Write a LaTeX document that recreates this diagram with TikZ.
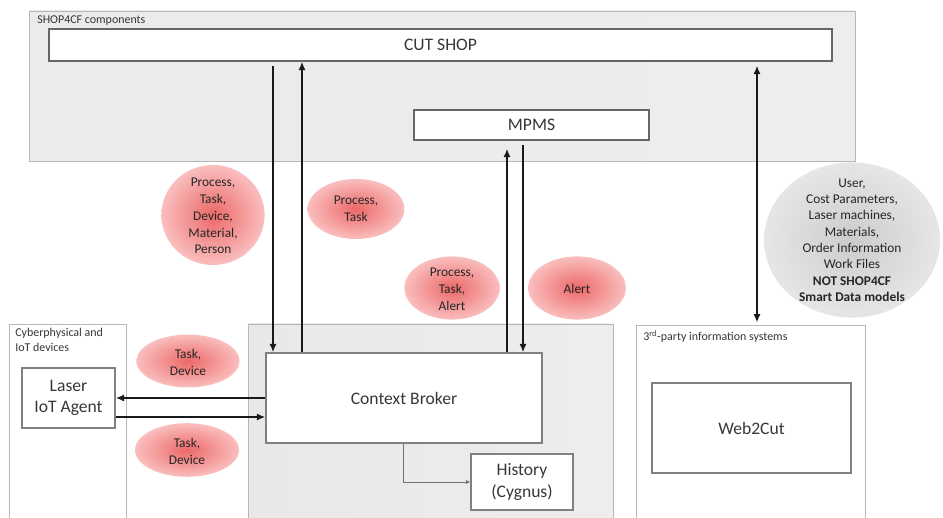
\documentclass[tikz,border=0pt]{standalone}
\usepackage{fontspec}
\setmainfont{Carlito}
\usetikzlibrary{arrows.meta}

\definecolor{bubred}{RGB}{236,104,104}
\definecolor{bubpink}{RGB}{250,190,190}
\definecolor{bubgray}{RGB}{204,204,204}
\definecolor{bubgrayout}{RGB}{230,230,230}
\definecolor{ink}{RGB}{55,55,55}

\tikzset{
  area/.style={draw=black!28, line width=0.6pt, inner sep=0pt},
  comp/.style={draw=black!60, line width=0.9pt, fill=white, inner sep=0pt,
    text=ink, font=\fontsize{12.5}{15}\selectfont, align=center},
  flow/.style={line width=1.4pt, black!90},
  redbub/.style={inner color=bubred, outer color=bubpink},
  graybub/.style={inner color=bubgray, outer color=bubgrayout},
  note/.style={text=black!85, font=\fontsize{9.5}{12}\selectfont, align=center, inner sep=0pt},
  tag/.style={text=ink, font=\fontsize{8.5}{10.5}\selectfont, align=left,
    anchor=north west, inner sep=0pt}
}

\begin{document}
\begin{tikzpicture}[x=0.025cm, y=-0.025cm, >={Latex[length=6pt,width=5pt]}]
\clip (0,0) rectangle (943,518);

% groups
\node[area, left color=black!8, middle color=black!20, right color=black!7,
  minimum width=20.625cm, minimum height=3.75cm] (shop) at (442.5,86) {};
\node[tag] (shoplbl) at (37,15) {SHOP4CF components};
\node[area, fill=white, minimum width=2.925cm, minimum height=5.4cm] (cyber) at (67.5,432) {};
\node[tag] (cyberlbl) at (15,328) {Cyberphysical and\\IoT devices};
\node[area, left color=black!9, middle color=black!17, right color=black!7,
  minimum width=9.125cm, minimum height=5.4cm] (cbarea) at (430.5,432) {};
\node[area, fill=white, minimum width=5.725cm, minimum height=5.375cm] (third) at (750.5,432.5) {};
\node[tag] (thirdlbl) at (643,330) {3\textsuperscript{rd}-party information systems};

% components
\node[comp, minimum width=19.575cm, minimum height=0.8cm] (cutshop) at (440.5,45) {CUT SHOP};
\node[comp, minimum width=5.875cm, minimum height=0.75cm] (mpms) at (531.5,125) {MPMS};
\node[comp, draw=black!50, minimum width=6.9cm, minimum height=2.25cm] (broker) at (404,398) {Context Broker};
\node[comp, draw=black!50, minimum width=2.55cm, minimum height=1.4cm] (history) at (522,482) {History\\(Cygnus)};
\node[comp, draw=black!50, minimum width=2.325cm, minimum height=1.5cm] (agent) at (68.5,398) {Laser\\IoT Agent};
\node[comp, draw=black!50, minimum width=4.975cm, minimum height=2.25cm] (webcut) at (751.5,428) {Web2Cut};

% where the links run
\coordinate (cs1) at (273,0);
\coordinate (cs2) at (302,0);
\coordinate (mp1) at (507,0);
\coordinate (mp2) at (523,0);
\coordinate (wc) at (757,0);
\coordinate (hx) at (403,0);
\coordinate (ag1) at (0,398);
\coordinate (ag2) at (0,417);

\draw[flow, ->, shorten <=0.1cm] (cutshop.south -| cs1) -- (broker.north -| cs1);
\draw[flow, ->] (broker.north -| cs2) -- (cutshop.south -| cs2);
\draw[flow, ->, shorten >=0.2cm] (broker.north -| mp1) -- (mpms.south -| mp1);
\draw[flow, ->, shorten <=0.12cm] (mpms.south -| mp2) -- (broker.north -| mp2);
\draw[flow, <->, shorten <=0.1cm, shorten >=0.05cm] (cutshop.south -| wc) -- (third.north -| wc);
\draw[flow, ->] (broker.west |- ag1) -- (agent.east |- ag1);
\draw[flow, ->] (agent.east |- ag2) -- (broker.west |- ag2);
\draw[black!55, line width=0.6pt, -{Latex[length=3pt,width=3pt]}] (broker.south -| hx) |- (history.west);

% data bubbles
\shade[redbub] (213,215) ellipse [x radius=1.29cm, y radius=1.25cm];
\node[note] (pdata) at (213,216) {Process,\\Task,\\Device,\\Material,\\Person};
\shade[redbub] (356,209) ellipse [x radius=1.21cm, y radius=0.75cm];
\node[note] (ptask) at (356,209) {Process,\\Task};
\shade[redbub] (452,288) ellipse [x radius=1.19cm, y radius=0.79cm];
\node[note] (palert) at (452,289) {Process,\\Task,\\Alert};
\shade[redbub] (577,288) ellipse [x radius=1.22cm, y radius=0.79cm];
\node[note] (alert) at (577,289) {Alert};
\shade[redbub] (188,361) ellipse [x radius=1.29cm, y radius=0.66cm];
\node[note] (tdin) at (188,362) {Task,\\Device};
\shade[redbub] (187,450) ellipse [x radius=1.3cm, y radius=0.67cm];
\node[note] (tdout) at (187,451) {Task,\\Device};
\shade[graybub] (852,240) ellipse [x radius=2.2cm, y radius=1.94cm];
\node[note, font=\fontsize{9.5}{11.6}\selectfont] (userdata) at (852,240)
  {User,\\Cost Parameters,\\Laser machines,\\Materials,\\Order Information\\Work Files\\
   \textbf{NOT SHOP4CF}\\\textbf{Smart Data models}};
\end{tikzpicture}
\end{document}
